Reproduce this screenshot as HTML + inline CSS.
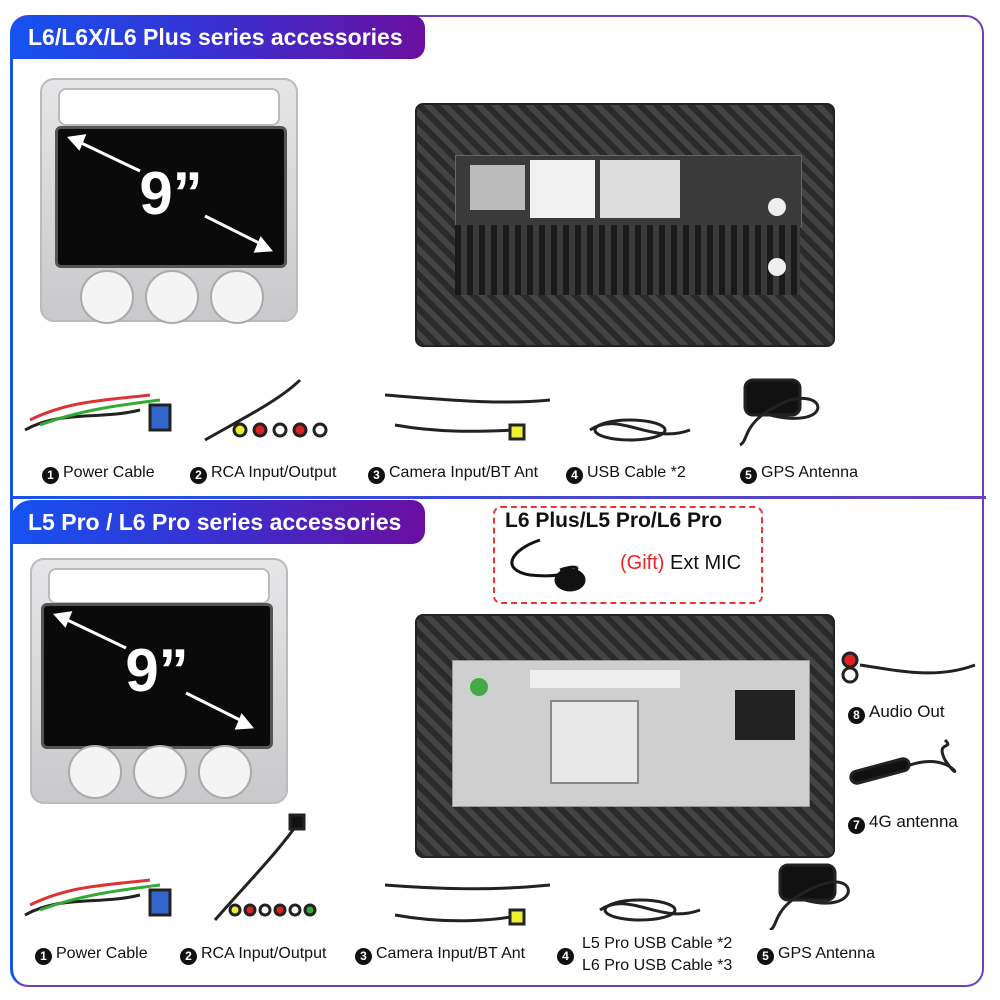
<!DOCTYPE html>
<html><head><style>
body{margin:0;width:1000px;height:1000px;background:#fff;position:relative;overflow:hidden;font-family:"Liberation Sans",sans-serif}
.a{position:absolute}
.hdr{position:absolute;left:10px;width:415px;height:44px;background:linear-gradient(90deg,#1453f0,#3a2fd0 50%,#6a0fa0);border-radius:22px 13px 13px 0;color:#fff;font-size:23px;font-weight:bold;line-height:44px;padding-left:18px;box-sizing:border-box}
.lbl{position:absolute;font-size:16px;color:#111;white-space:nowrap}
.n{display:inline-block;width:17px;height:17px;border-radius:50%;background:#111;color:#fff;font-size:12px;font-weight:bold;text-align:center;line-height:17px;margin-right:4px;vertical-align:-2px}
.frame{position:absolute;background:linear-gradient(#e6e6e8,#c9c9cc);border-radius:14px;border:2px solid #bbb}
.cut{position:absolute;background:#fff;border:2px solid #bbb;border-radius:8px}
.scr{position:absolute;background:#0a0a0a;border-radius:6px;color:#fff;font-weight:bold;font-size:60px;text-align:center;border:3px solid #555}
.vent{position:absolute;width:50px;height:50px;border-radius:50%;background:#f4f4f4;border:2px solid #aaa}
.back{position:absolute;background:repeating-linear-gradient(45deg,#2a2a2a 0 6px,#444 6px 12px);border-radius:8px;border:2px solid #222}
</style></head><body>
<div class="a" style="left:10px;top:15px;width:974px;height:972px;border:2px solid #6a3fc0;border-left:3px solid #1453f0;border-radius:18px;box-sizing:border-box"></div>
<div class="a" style="left:10px;top:496px;width:976px;height:3px;background:linear-gradient(90deg,#1453f0,#6a3fc0)"></div>
<div class="hdr" style="top:15px">L6/L6X/L6 Plus series accessories</div>
<div class="hdr" style="top:500px">L5 Pro / L6 Pro series accessories</div>

<!-- top unit -->
<div class="frame" style="left:40px;top:78px;width:254px;height:240px"></div>
<div class="cut" style="left:58px;top:88px;width:218px;height:34px"></div>
<div class="scr" style="left:55px;top:126px;width:226px;height:136px;line-height:130px">9”</div>
<svg class="a" style="left:55px;top:126px" width="232" height="142" stroke="#fff" stroke-width="3" fill="#fff"><path d="M20 14 L85 45"/><path d="M15 12 l14 -2 l-5 12z"/><path d="M150 90 L210 120"/><path d="M215 124 l-14 1 l5 -12z"/></svg>
<div class="vent" style="left:80px;top:270px"></div><div class="vent" style="left:145px;top:270px"></div><div class="vent" style="left:210px;top:270px"></div>
<div class="back" style="left:415px;top:103px;width:416px;height:240px"></div>
<div class="a" style="left:455px;top:155px;width:345px;height:70px;background:#3a3a3a;border:1px solid #666"></div>
<div class="a" style="left:600px;top:160px;width:80px;height:58px;background:#ddd"></div>
<div class="a" style="left:530px;top:160px;width:65px;height:58px;background:#f0f0f0"></div>
<div class="a" style="left:470px;top:165px;width:55px;height:45px;background:#bbb"></div>
<div class="a" style="left:455px;top:225px;width:345px;height:70px;background:repeating-linear-gradient(90deg,#1a1a1a 0 6px,#3a3a3a 6px 12px)"></div>
<div class="a" style="left:768px;top:198px;width:18px;height:18px;border-radius:50%;background:#eee"></div>
<div class="a" style="left:768px;top:258px;width:18px;height:18px;border-radius:50%;background:#eee"></div>
<div class="lbl" style="left:42px;top:464px"><span class="n">1</span>Power Cable</div>
<div class="lbl" style="left:190px;top:464px"><span class="n">2</span>RCA Input/Output</div>
<div class="lbl" style="left:368px;top:464px"><span class="n">3</span>Camera Input/BT Ant</div>
<div class="lbl" style="left:566px;top:464px"><span class="n">4</span>USB Cable *2</div>
<div class="lbl" style="left:740px;top:464px"><span class="n">5</span>GPS Antenna</div>
<svg class="a" style="left:0;top:360px" width="1000" height="100" fill="none" stroke="#222" stroke-width="3">
<path d="M25 70 C60 50 100 60 140 50"/><path d="M30 60 C70 40 110 40 150 35" stroke="#d33"/><path d="M40 65 C80 50 120 45 160 40" stroke="#3a3"/>
<rect x="150" y="45" width="20" height="25" fill="#3366cc"/><path d="M205 80 C240 60 280 40 300 20"/>
<circle cx="240" cy="70" r="6" fill="#ee3"/><circle cx="260" cy="70" r="6" fill="#d22"/><circle cx="280" cy="70" r="6" fill="#fff"/><circle cx="300" cy="70" r="6" fill="#d22"/><circle cx="320" cy="70" r="6" fill="#fff"/>
<path d="M385 35 C450 40 500 45 550 40"/><path d="M395 65 C450 75 500 70 520 70"/><rect x="510" y="65" width="14" height="14" fill="#ee3"/>
<path d="M590 70 C620 50 650 85 690 70"/><ellipse cx="630" cy="70" rx="35" ry="10"/>
<rect x="745" y="20" width="55" height="35" rx="8" fill="#111"/><path d="M770 55 C830 70 830 30 790 40 C740 60 750 80 740 85"/>
</svg>

<!-- bottom unit -->
<div class="frame" style="left:30px;top:558px;width:254px;height:242px"></div>
<div class="cut" style="left:48px;top:568px;width:218px;height:32px"></div>
<div class="scr" style="left:41px;top:603px;width:226px;height:140px;line-height:130px">9”</div>
<svg class="a" style="left:41px;top:603px" width="232" height="146" stroke="#fff" stroke-width="3" fill="#fff"><path d="M20 14 L85 45"/><path d="M15 12 l14 -2 l-5 12z"/><path d="M145 90 L205 120"/><path d="M210 124 l-14 1 l5 -12z"/></svg>
<div class="vent" style="left:68px;top:745px"></div><div class="vent" style="left:133px;top:745px"></div><div class="vent" style="left:198px;top:745px"></div>
<div class="a" style="left:493px;top:506px;width:270px;height:98px;border:2px dashed #e33;border-radius:8px;box-sizing:border-box"></div>
<div class="a" style="left:505px;top:509px;font-size:21px;font-weight:bold;color:#111">L6 Plus/L5 Pro/L6 Pro</div>
<div class="a" style="left:620px;top:552px;font-size:20px;color:#111"><span style="color:#e22">(Gift)</span> Ext MIC</div>
<svg class="a" style="left:500px;top:530px" width="110" height="70" fill="none" stroke="#111" stroke-width="3"><path d="M40 10 C10 20 0 40 30 45 C80 50 90 30 60 40"/><ellipse cx="70" cy="50" rx="14" ry="10" fill="#111"/></svg>
<div class="back" style="left:415px;top:614px;width:416px;height:240px"></div>
<div class="a" style="left:452px;top:660px;width:356px;height:145px;background:#cfcfcf;border:1px solid #999"></div>
<div class="a" style="left:550px;top:700px;width:85px;height:80px;background:#e8e8e8;border:2px solid #888"></div>
<div class="a" style="left:735px;top:690px;width:60px;height:50px;background:#222"></div>
<div class="a" style="left:530px;top:670px;width:150px;height:18px;background:#eee"></div>
<div class="a" style="left:470px;top:678px;width:18px;height:18px;border-radius:50%;background:#4a4"></div>
<div class="lbl" style="left:848px;top:702px;font-size:17px"><span class="n">8</span>Audio Out</div>
<div class="lbl" style="left:848px;top:812px;font-size:17px"><span class="n">7</span>4G antenna</div>
<svg class="a" style="left:835px;top:640px" width="160" height="170" fill="none" stroke="#222" stroke-width="3">
<circle cx="15" cy="20" r="7" fill="#d22"/><circle cx="15" cy="35" r="7" fill="#fff"/><path d="M25 25 C60 30 100 40 140 25"/>
<rect x="15" y="125" width="60" height="12" rx="6" fill="#111" transform="rotate(-15 45 131)"/><path d="M75 125 C120 110 130 150 110 120 C100 100 120 110 110 100"/>
</svg>
<svg class="a" style="left:0;top:810px" width="1000" height="120" fill="none" stroke="#222" stroke-width="3">
<path d="M25 105 C60 85 100 95 140 85"/><path d="M30 95 C70 75 110 75 150 70" stroke="#d33"/><path d="M40 100 C80 85 120 80 160 75" stroke="#3a3"/>
<rect x="150" y="80" width="20" height="25" fill="#3366cc"/><path d="M215 110 C250 70 280 40 300 10"/><rect x="290" y="5" width="14" height="14" fill="#111"/>
<circle cx="235" cy="100" r="5" fill="#ee3"/><circle cx="250" cy="100" r="5" fill="#d22"/><circle cx="265" cy="100" r="5" fill="#fff"/><circle cx="280" cy="100" r="5" fill="#d22"/><circle cx="295" cy="100" r="5" fill="#fff"/><circle cx="310" cy="100" r="5" fill="#3a3"/>
<path d="M385 75 C450 80 500 80 550 75"/><path d="M395 105 C450 115 500 110 520 105"/><rect x="510" y="100" width="14" height="14" fill="#ee3"/>
<path d="M600 100 C630 80 660 115 700 100"/><ellipse cx="640" cy="100" rx="35" ry="10"/>
<rect x="780" y="55" width="55" height="35" rx="8" fill="#111"/><path d="M805 90 C860 105 860 60 820 75 C770 95 780 115 770 120"/>
</svg>
<div class="lbl" style="left:35px;top:945px"><span class="n">1</span>Power Cable</div>
<div class="lbl" style="left:180px;top:945px"><span class="n">2</span>RCA Input/Output</div>
<div class="lbl" style="left:355px;top:945px"><span class="n">3</span>Camera Input/BT Ant</div>
<div class="lbl" style="left:557px;top:945px"><span class="n">4</span></div>
<div class="lbl" style="left:582px;top:935px">L5 Pro USB Cable *2</div>
<div class="lbl" style="left:582px;top:957px">L6 Pro USB Cable *3</div>
<div class="lbl" style="left:757px;top:945px"><span class="n">5</span>GPS Antenna</div>
</body></html>
